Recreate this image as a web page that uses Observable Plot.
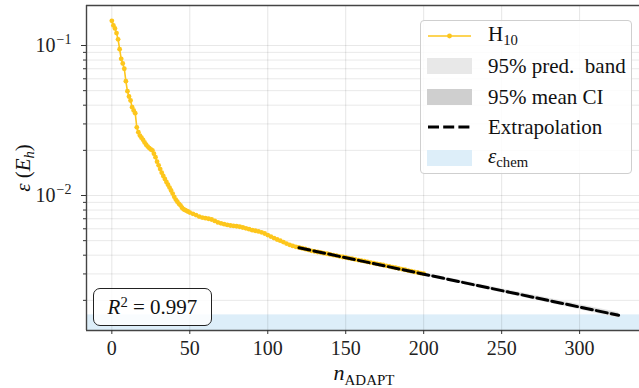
<!DOCTYPE html>
<html>
<head>
<meta charset="utf-8">
<script src="https://cdn.jsdelivr.net/npm/d3@7"></script>
<script src="https://cdn.jsdelivr.net/npm/@observablehq/plot@0.6"></script>
<style>
  html, body { margin: 0; padding: 0; background: #fff; }
  #wrap { position: relative; width: 639px; height: 388px; font-family: "Liberation Serif", "DejaVu Serif", serif; color: #111; }
  #wrap svg { display: block; }
  .ov { position: absolute; white-space: nowrap; line-height: 1; }
  .ov sub { font-size: 0.7em; vertical-align: -0.3em; }
  .ov sup { font-size: 0.7em; vertical-align: 0.5em; }
  #legend { position: absolute; left: 420px; top: 20px; width: 210px; height: 152px;
            border: 1px solid #cfcfcf; border-radius: 4px; background: rgba(255,255,255,0.85); }
  .lg-row { position: absolute; left: 0; height: 30px; width: 210px; }
  .lg-sw { position: absolute; left: 6px; top: 0; width: 45px; height: 30px; }
  .lg-tx { position: absolute; left: 67px; top: 50%; transform: translateY(-50%); font-size: 21px; white-space: nowrap; }
  #r2 { position: absolute; left: 93px; top: 288px; width: 117px; height: 36px; border: 1px solid #222;
        border-radius: 7px; background: rgba(255,255,255,0.82); font-size: 21px; display: flex;
        align-items: center; justify-content: center; }
</style>
</head>
<body>
<div id="wrap"></div>
<script>
// ---------- data ----------
const nEarly = [0,1,2,3,4,5,6,7,8,9,10,11,12,13,14,15,16,17,18,19,20,21,22,23,24,25,26,27,28,29,30,31,32,33,34,35,36,37,38,39,40,41,42,43,44,45,46,47,48,49];
const epsEarly = [0.146,0.136,0.130,0.121,0.110,0.0945,0.0815,0.0759,0.0700,0.0578,0.0496,0.0457,0.0430,0.0388,0.0369,0.0354,0.0285,0.0264,0.0251,0.0243,0.0235,0.0226,0.0218,0.0212,0.0207,0.0203,0.0200,0.0190,0.0180,0.0168,0.0159,0.0150,0.0142,0.0135,0.0129,0.0123,0.0118,0.0113,0.0108,0.0103,0.0098,0.0094,0.0091,0.0088,0.0086,0.0083,0.0081,0.0080,0.0079,0.0078];
const nLate = [50,52,54,56,58,60,62,64,66,68,70,72,74,76,78,80,82,84,86,88,90,92,94,96,98,100,102,104,106,108,110,112,114,116,118,120,122,124,126,128,130,132,134,136,138,140,142,144,146,148,150,152,154,156,158,160,162,164,166,168,170,172,174,176,178,180,182,184,186,188,190,192,194,196,198,200];
const epsLate = [0.00770,0.00755,0.00741,0.00724,0.00713,0.00706,0.00700,0.00692,0.00677,0.00662,0.00652,0.00644,0.00637,0.00631,0.00627,0.00624,0.00619,0.00612,0.00604,0.00596,0.00587,0.00582,0.00576,0.00568,0.00558,0.00545,0.00532,0.00520,0.00509,0.00500,0.00489,0.00478,0.00469,0.00461,0.00455,0.00450,0.00445,0.00440,0.00434,0.00428,0.00424,0.00420,0.00417,0.00413,0.00409,0.00405,0.00401,0.00397,0.00393,0.00389,0.00386,0.00382,0.00379,0.00375,0.00371,0.00368,0.00365,0.00361,0.00357,0.00354,0.00350,0.00347,0.00344,0.00340,0.00337,0.00333,0.00330,0.00327,0.00323,0.00320,0.00316,0.00313,0.00310,0.00307,0.00304,0.00301];

const extrapN = [120, 325];
const extrapEps = [0.00448, 0.00159];

const bandN  = [120, 200, 325];
const predLo = [0.00441, 0.00292, 0.00152];
const predHi = [0.00455, 0.00305, 0.00166];
const ciLo   = [0.00445, 0.00295, 0.00155];
const ciHi   = [0.00451, 0.00302, 0.00163];

const chemAcc = 1.6e-3;
const r2Value = "0.997";

const xTicks = [0, 50, 100, 150, 200, 250, 300];
const yMajor = [0.1, 0.01];
const yMajorExp = ["\u22121", "\u22122"];
const yMinor = [0.002,0.003,0.004,0.005,0.006,0.007,0.008,0.009,0.02,0.03,0.04,0.05,0.06,0.07,0.08,0.09];

const xDomain = [-16.25, 338.4];
const yDomain = [0.001259, 0.1848];

const seriesColor = "#fdc61c";

// ---------- tables ----------
const rows = nEarly.map((n, i) => ({n, eps: epsEarly[i]}))
  .concat(nLate.map((n, i) => ({n, eps: epsLate[i]})));
const extrap = extrapN.map((n, i) => ({n, eps: extrapEps[i]}));
const band = bandN.map((n, i) => ({n, pLo: predLo[i], pHi: predHi[i], cLo: ciLo[i], cHi: ciHi[i]}));
const chemBand = [{x1: xDomain[0], x2: xDomain[1], y1: yDomain[0], y2: chemAcc}];
const yMajorRows = yMajor.map((v, i) => ({v, exp: yMajorExp[i]}));

const chart = Plot.plot({
  width: 639, height: 388,
  marginLeft: 86, marginRight: 0, marginTop: 5, marginBottom: 58,
  style: {fontFamily: "'Liberation Serif', 'DejaVu Serif', serif", fontSize: "20px", color: "#222", background: "white"},
  x: {domain: xDomain},
  y: {type: "log", domain: yDomain},
  marks: [
    Plot.rect(chemBand, {x1: "x1", x2: "x2", y1: "y1", y2: "y2", fill: "#ddeef9"}),
    Plot.gridY(yMajor.concat(yMinor), {stroke: "#000", strokeOpacity: 0.09, strokeWidth: 1}),
    Plot.gridX(xTicks, {stroke: "#000", strokeOpacity: 0.1, strokeWidth: 1}),
    Plot.areaY(band, {x: "n", y1: "pLo", y2: "pHi", fill: "#e6e6e6"}),
    Plot.areaY(band, {x: "n", y1: "cLo", y2: "cHi", fill: "#cccccc"}),
    Plot.line(rows, {x: "n", y: "eps", stroke: seriesColor, strokeWidth: 1.6}),
    Plot.dot(rows, {x: "n", y: "eps", r: 2.4, fill: seriesColor, stroke: "none"}),
    Plot.line(extrap, {x: "n", y: "eps", stroke: "#000", strokeWidth: 3, strokeDasharray: "11,4.2"}),
    Plot.ruleX([xDomain[0]], {stroke: "#444", strokeWidth: 1.4}),
    Plot.ruleY([yDomain[0], yDomain[1]], {stroke: "#444", strokeWidth: 1.4}),
    Plot.axisX(xTicks, {tickSize: 4, tickPadding: 6, label: null, fontSize: 20, stroke: "#333"}),
    Plot.axisY(yMajor, {tickSize: 5, tickFormat: () => "", label: null, stroke: "#333"}),
    Plot.axisY(yMinor, {tickSize: 3, tickFormat: () => "", label: null, stroke: "#333"}),
    Plot.text(yMajorRows, {x: () => xDomain[0], y: "v", text: () => "10", textAnchor: "end", dx: -31, fontSize: 20, fill: "#222"}),
    Plot.text(yMajorRows, {x: () => xDomain[0], y: "v", text: "exp", textAnchor: "start", dx: -30, dy: -6, fontSize: 14, fill: "#222"})
  ]
});

const wrap = document.getElementById("wrap");
wrap.appendChild(chart);

// ---------- overlays: axis titles, legend, R^2 box ----------
const ylab = document.createElement("div");
ylab.className = "ov";
ylab.style.cssText = "left:25px;top:168px;font-size:21px;transform:translate(-50%,-50%) rotate(-90deg);";
ylab.innerHTML = "<i>\u03b5</i>&nbsp;(<i>E</i><sub><i>h</i></sub>)";
wrap.appendChild(ylab);

const xlab = document.createElement("div");
xlab.className = "ov";
xlab.style.cssText = "left:364px;top:375px;font-size:22px;transform:translate(-50%,-50%);";
xlab.innerHTML = "<i>n</i><sub style='font-size:0.68em'>ADAPT</sub>";
wrap.appendChild(xlab);

const legendItems = [
  {kind: "linedot", label: "H<sub>10</sub>"},
  {kind: "patch", color: "#e8e8e8", label: "95% pred.&nbsp; band"},
  {kind: "patch", color: "#cfcfcf", label: "95% mean CI"},
  {kind: "dash", label: "Extrapolation"},
  {kind: "patch", color: "#ddeef9", label: "<i>\u03b5</i><sub>chem</sub>"}
];
const legend = document.createElement("div");
legend.id = "legend";
legendItems.forEach((it, i) => {
  const row = document.createElement("div");
  row.className = "lg-row";
  row.style.top = (0 + i * 30.4) + "px";
  let sw = "";
  if (it.kind === "linedot") {
    sw = `<svg class="lg-sw" width="45" height="30"><line x1="1" x2="44" y1="15" y2="15" stroke="${seriesColor}" stroke-width="1.6"/><circle cx="22.5" cy="15" r="2.4" fill="${seriesColor}"/></svg>`;
  } else if (it.kind === "patch") {
    sw = `<svg class="lg-sw" width="45" height="30"><rect x="0" y="7" width="45" height="16" fill="${it.color}"/></svg>`;
  } else {
    sw = `<svg class="lg-sw" width="45" height="30"><line x1="1" x2="44" y1="15" y2="15" stroke="#000" stroke-width="3" stroke-dasharray="11,4.2"/></svg>`;
  }
  row.innerHTML = sw + `<span class="lg-tx ov" style="position:absolute">${it.label}</span>`;
  legend.appendChild(row);
});
wrap.appendChild(legend);

const r2 = document.createElement("div");
r2.id = "r2";
r2.className = "ov";
r2.innerHTML = "<span><i>R</i><sup>2</sup>&nbsp;=&nbsp;" + r2Value + "</span>";
wrap.appendChild(r2);
</script>
</body>
</html>
